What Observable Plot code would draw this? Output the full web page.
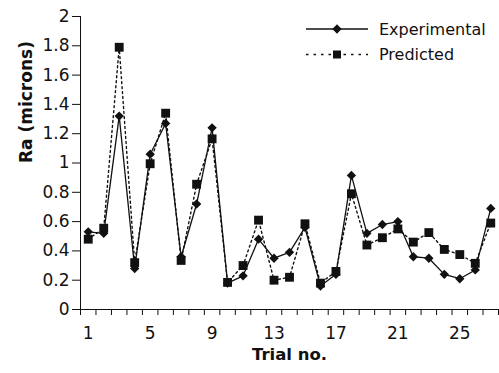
<!DOCTYPE html>
<html>
<head>
<meta charset="utf-8">
<script src="https://cdn.jsdelivr.net/npm/d3@7"></script>
<script src="https://cdn.jsdelivr.net/npm/@observablehq/plot@0.6"></script>
<style>
  html, body { margin: 0; padding: 0; background: #fff; }
  #wrap { position: relative; width: 499px; height: 373px; font-family: "DejaVu Sans", sans-serif; }
  #legend { position: absolute; left: 0; top: 0; }
</style>
</head>
<body>
<div id="wrap"></div>
<script>
const trials = d3.range(1, 28);
const experimental = [0.53, 0.52, 1.32, 0.28, 1.06, 1.27, 0.36, 0.72, 1.24, 0.18, 0.23, 0.48, 0.35, 0.39, 0.56, 0.16, 0.24, 0.915, 0.52, 0.58, 0.60, 0.36, 0.35, 0.24, 0.21, 0.27, 0.69];
const predicted =    [0.48, 0.555, 1.79, 0.32, 0.995, 1.34, 0.335, 0.855, 1.165, 0.185, 0.30, 0.61, 0.20, 0.22, 0.585, 0.18, 0.26, 0.79, 0.44, 0.49, 0.55, 0.46, 0.525, 0.41, 0.375, 0.315, 0.59];
const yTicks = [0, 0.2, 0.4, 0.6, 0.8, 1, 1.2, 1.4, 1.6, 1.8, 2];
const xTickLabels = [1, 5, 9, 13, 17, 21, 25];
const seriesNames = ["Experimental", "Predicted"];

const expData = trials.map((t, i) => ({trial: t, value: experimental[i]}));
const predData = trials.map((t, i) => ({trial: t, value: predicted[i]}));

const FONT = "DejaVu Sans, sans-serif";

const chart = Plot.plot({
  width: 499,
  height: 373,
  marginLeft: 80,
  marginRight: 1,
  marginTop: 16,
  marginBottom: 64,
  style: {fontFamily: FONT, fontSize: "17px", color: "#111", background: "#fff"},
  x: {domain: [0.5, 27.5]},
  y: {domain: [0, 2]},
  marks: [
    Plot.axisY({ticks: yTicks, tickSize: 8, tickPadding: 3, tickFormat: d => String(+d.toFixed(1)), label: null, fontSize: 17}),
    Plot.axisX({ticks: d3.range(0.5, 28, 1), tickSize: 6, tickFormat: () => "", label: null}),
    Plot.axisX({ticks: xTickLabels, tickSize: 0, tickPadding: 17, tickFormat: d => String(d), label: null, fontSize: 17}),
    Plot.ruleX([0.5], {y1: 0, y2: 2, stroke: "#111"}),
    Plot.ruleY([0], {stroke: "#111"}),
    Plot.line(predData, {x: "trial", y: "value", stroke: "#111", strokeWidth: 1.4, strokeDasharray: "2,3"}),
    Plot.line(expData, {x: "trial", y: "value", stroke: "#111", strokeWidth: 1.3}),
    Plot.dot(predData, {x: "trial", y: "value", symbol: "square", r: 5, fill: "#111", stroke: "none"}),
    Plot.dot(expData, {x: "trial", y: "value", symbol: "diamond2", r: 4.2, fill: "#111", stroke: "none"}),
    Plot.text(["Ra (microns)"], {frameAnchor: "left", rotate: -90, dx: -54, fontWeight: "bold", fontSize: 17, fill: "#111"}),
    Plot.text(["Trial no."], {frameAnchor: "bottom", dy: 50, fontWeight: "bold", fontSize: 16.5, fill: "#111"})
  ]
});
document.getElementById("wrap").appendChild(chart);

// Legend overlay
const leg = d3.select("#wrap").append("svg").attr("id", "legend").attr("width", 499).attr("height", 373)
  .style("pointer-events", "none");
const rows = [
  {name: seriesNames[0], y: 29, dash: null, sym: d3.symbolDiamond2, size: 55},
  {name: seriesNames[1], y: 54.5, dash: "2.5,5", sym: d3.symbolSquare, size: 64}
];
rows.forEach(r => {
  leg.append("line").attr("x1", 306).attr("x2", 368).attr("y1", r.y).attr("y2", r.y)
    .attr("stroke", "#111").attr("stroke-width", 1.3).attr("stroke-dasharray", r.dash);
  leg.append("path").attr("d", d3.symbol(r.sym, r.size)()).attr("transform", `translate(337,${r.y})`).attr("fill", "#111");
  leg.append("text").attr("x", 379).attr("y", r.y).attr("dy", "0.36em").attr("font-size", 16)
    .attr("font-family", FONT).attr("fill", "#111").text(r.name);
});
</script>
</body>
</html>
